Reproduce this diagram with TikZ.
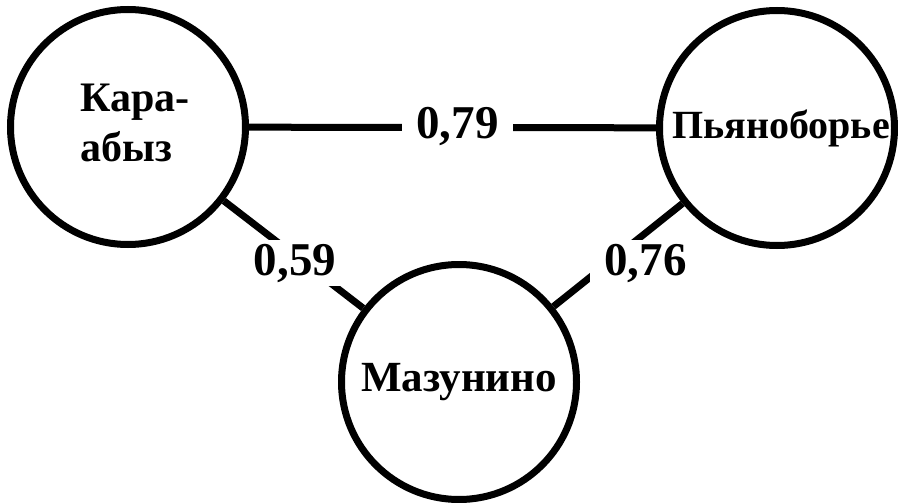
\documentclass[tikz,border=0pt]{standalone}
\usepackage{fontspec}
\setmainfont{Liberation Serif}[BoldFont={Liberation Serif Bold}]
\newfontfamily\labelfont{Liberation Serif Bold}
\begin{document}
\begin{tikzpicture}[x=1pt,y=-1pt,
  town/.style={circle,draw,line width=7pt,minimum size=235pt,inner sep=0pt,
    font=\labelfont\fontsize{42}{50}\selectfont},
  townname/.style={inner sep=0pt,align=left,font=\labelfont\fontsize{42}{50}\selectfont},
  link/.style={line width=7pt},
  weight/.style={fill=white,inner xsep=14pt,inner ysep=4pt,
    font=\labelfont\fontsize{47}{56}\selectfont}]
\useasboundingbox (0,0) rectangle (898,503);
\node[town] (K) at (128,127) {};
\node[townname,xshift=7pt,yshift=4pt] (Kname) at (K) {Кара-\\абыз};
\node[town] (P) at (777,128) {};
\node[townname,xshift=4pt,font=\labelfont\fontsize{40}{48}\selectfont] (Pname) at (P) {Пьяноборье};
\node[town,font=\labelfont\fontsize{43}{50}\selectfont] (M) at (459,382) {Мазунино};
\draw[link] (K) -- (P);
\draw[link] (K) -- (M);
\draw[link] (M) -- (P);
\node[weight,anchor=base] (w1) at (457.5,139) {0,79};
\node[weight,anchor=base] (w2) at (295,275) {0,59};
\node[weight,anchor=base] (w3) at (645.5,275) {0,76};
\end{tikzpicture}
\end{document}
